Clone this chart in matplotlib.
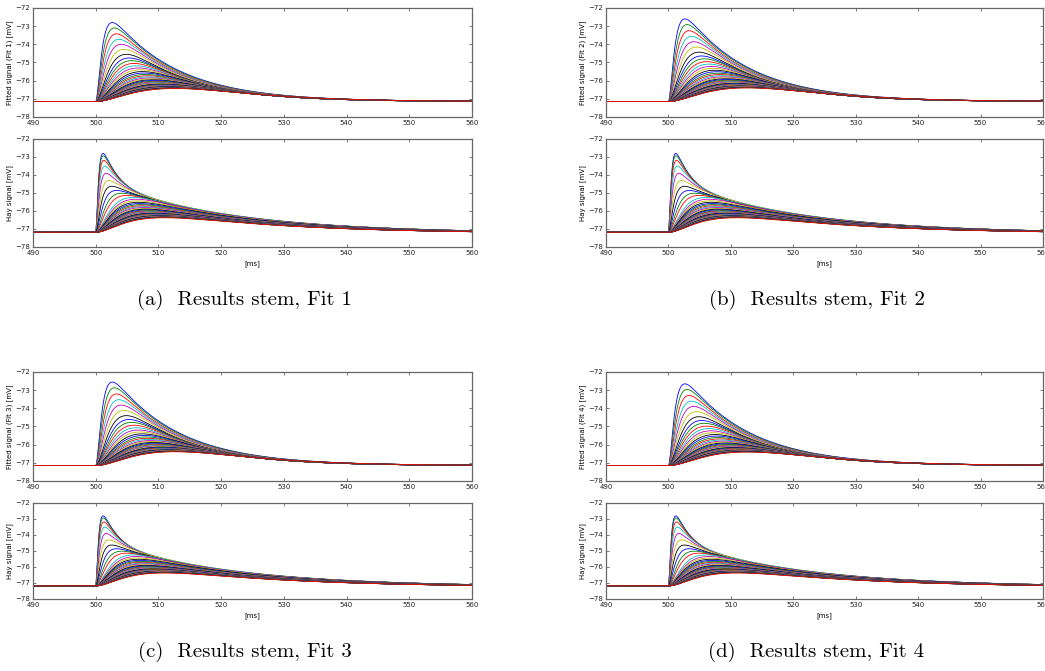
import numpy as np
import matplotlib
matplotlib.use("Agg")
import matplotlib.pyplot as plt

# time axis [ms]
t_start, t_stim, t_end = 490.0, 500.0, 560.0

# baseline potentials [mV]
fit_rest = -77.15
hay_rest = -77.18
hay_sag = -0.07

# peak voltage of each trace, Fit 1 model (largest first)
fit_peak = [-72.80, -73.10, -73.42, -73.72, -74.00, -74.28, -74.55, -74.75, -74.90,
            -75.05, -75.18, -75.30, -75.40, -75.50, -75.58, -75.66, -75.73, -75.79,
            -75.85, -75.90, -75.95, -75.99, -76.03, -76.07, -76.10, -76.13, -76.16,
            -76.19, -76.21, -76.23, -76.25, -76.27, -76.29, -76.31, -76.33, -76.34,
            -76.35, -76.36, -76.37, -76.38, -76.39, -76.40, -76.41, -76.42, -76.43]
# rise time constant of each fitted trace [ms]
fit_rise = [0.8, 0.95, 1.1, 1.3, 1.5, 1.75, 2.0, 2.3, 2.6, 2.9, 3.2, 3.5, 3.8, 4.1,
            4.4, 4.7, 5.0, 5.3, 5.6, 5.9, 6.2, 6.5, 6.8, 7.1, 7.4, 7.7, 8.0, 8.3,
            8.6, 8.9, 9.2, 9.5, 9.8, 10.1, 10.4, 10.7, 11.0, 11.3, 11.6, 11.9, 12.2,
            12.5, 12.8, 13.1, 13.4]
fit_decay = 10.5
# amplitude scale of the four fits relative to Fit 1
fit_gain = [1.00, 1.046, 1.057, 1.034]

# Hay model traces
hay_peak = [-72.80, -72.93, -73.18, -73.50, -73.90, -74.30, -74.62, -74.85, -75.00,
            -75.12, -75.23, -75.33, -75.42, -75.50, -75.57, -75.63, -75.69, -75.74,
            -75.79, -75.84, -75.88, -75.92, -75.96, -75.99, -76.02, -76.05, -76.08,
            -76.10, -76.12, -76.14, -76.16, -76.18, -76.20, -76.22, -76.24, -76.25,
            -76.26, -76.27, -76.28, -76.29, -76.30, -76.31, -76.32, -76.33, -76.35]
hay_rise = [0.35, 0.36, 0.38, 0.42, 0.48, 0.58, 0.70, 0.90, 1.2, 1.5, 2.0,
            2.2, 2.3, 2.4, 2.5, 2.6, 2.7, 2.8, 2.9, 3.0, 3.1, 3.2, 3.3, 3.4, 3.5,
            3.6, 3.7, 3.8, 3.9, 4.0, 4.1, 4.2, 4.3, 4.4, 4.5, 4.6, 4.7, 4.8,
            4.85, 4.9, 4.95, 5.0, 5.05, 5.1, 5.15]
hay_fast = [0.55, 0.53, 0.48, 0.42, 0.35, 0.23, 0.15, 0.05, 0.02] + [0.0] * 36
hay_tau_fast = 2.5
hay_tau_slow = 20.0

fit_names = ["Fit 1", "Fit 2", "Fit 3", "Fit 4"]
captions = ["(a)  Results stem, Fit 1", "(b)  Results stem, Fit 2",
            "(c)  Results stem, Fit 3", "(d)  Results stem, Fit 4"]

colors = ["b", "g", "r", "c", "m", "y", "k"]
t = np.arange(t_start, t_end + 0.01, 0.05)
s = np.clip(t - t_stim, 0, None)


def fit_trace(peak, tr, gain):
    k = (1 - np.exp(-s / tr)) ** 2 * np.exp(-s / fit_decay)
    k = k / k.max()
    return fit_rest + gain * (peak - fit_rest) * k


def hay_trace(peak, tr, a):
    k = (1 - np.exp(-s / tr)) ** 2 * (a * np.exp(-s / hay_tau_fast) + (1 - a) * np.exp(-s / hay_tau_slow))
    k = k / k.max()
    return hay_rest + (peak - hay_rest) * k + hay_sag * (1 - np.exp(-s / 25.0))


W, H = 1045, 671
fig = plt.figure(figsize=(W / 100, H / 100), dpi=100)


def px_axes(x0, y0, x1, y1):
    return fig.add_axes([x0 / W, 1 - y1 / H, (x1 - x0) / W, (y1 - y0) / H])


def style(ax):
    ax.set_xlim(t_start, t_end)
    ax.set_ylim(-78, -72)
    ax.set_xticks(np.arange(490, 561, 10))
    ax.set_yticks(np.arange(-78, -71, 1))
    ax.set_yticklabels(["\u2212%d" % abs(v) for v in range(-78, -71)])
    ax.tick_params(direction="in", length=2.5, width=0.5, labelsize=5, pad=2,
                   top=True, right=True, colors="#444444", labelcolor="#222222")
    for sp in ax.spines.values():
        sp.set_color("#666666")
        sp.set_linewidth(0.9)


cols = [(33, 472), (606, 1043)]
rows = [(8, 117, 139, 247, 300), (372, 481, 503, 599, 652)]

for i in range(4):
    x0, x1 = cols[i % 2]
    ya, yb, yc, yd, ycap = rows[i // 2]

    ax1 = px_axes(x0, ya, x1, yb)
    for j in range(len(fit_peak)):
        ax1.plot(t, fit_trace(fit_peak[j], fit_rise[j], fit_gain[i]),
                 color=colors[j % 7], lw=0.6)
    style(ax1)
    ax1.set_ylabel("Fitted signal (%s) [mV]" % fit_names[i], fontsize=5, labelpad=1.5)

    ax2 = px_axes(x0, yc, x1, yd)
    for j in range(len(hay_peak)):
        ax2.plot(t, hay_trace(hay_peak[j], hay_rise[j], hay_fast[j]),
                 color=colors[j % 7], lw=0.6)
    style(ax2)
    ax2.set_ylabel("Hay signal [mV]", fontsize=5, labelpad=1.5)
    ax2.set_xlabel("[ms]", fontsize=5, labelpad=3)

    fig.text(((x0 + x1) / 2 - 8) / W, 1 - ycap / H, captions[i], family="cmr10",
             fontsize=15, ha="center", va="center")

fig.savefig("out.png", dpi=100)
